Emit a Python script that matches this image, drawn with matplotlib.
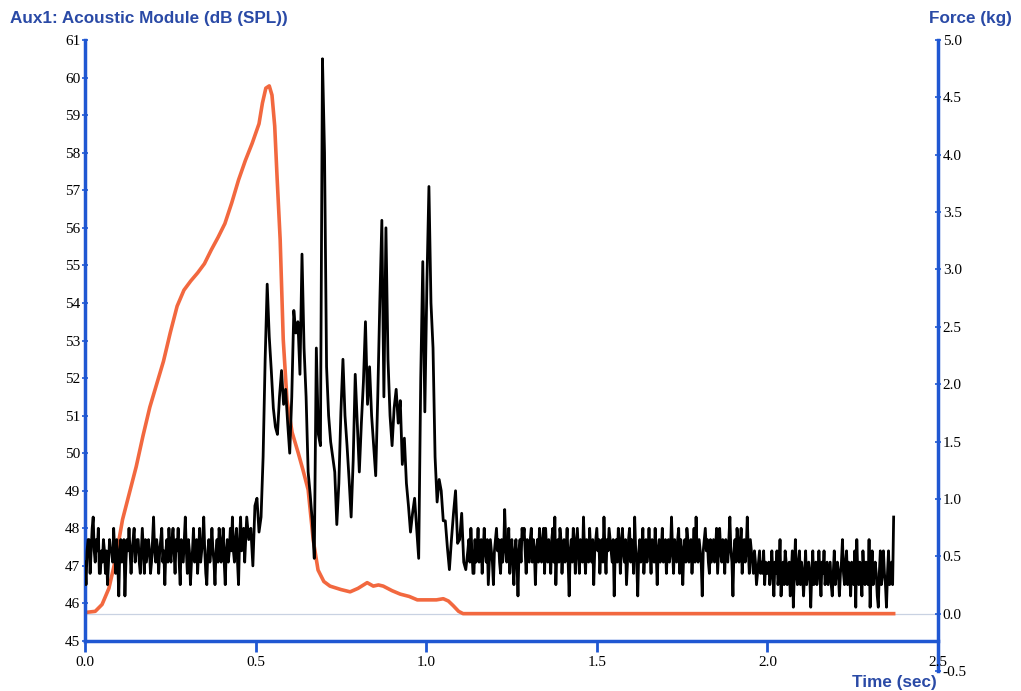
import numpy as np
import matplotlib.pyplot as plt

# Aux1 acoustic module (dB SPL). Quiet stretches read every 3 ms,
# the loud event every 6 ms.
quiet_start_t0, quiet_step = 0.0, 0.003
event_t0, event_step = 0.468, 0.006
quiet_mid_t0 = 1.122
quiet_end_t0 = 2.001

spl_quiet_start = [
    47.1, 46.5, 47.4, 47.7, 47.7, 46.8, 47.4, 48.0, 48.3, 47.4, 47.1, 47.7,
    47.4, 48.0, 46.8, 46.8, 47.4, 47.1, 47.7, 47.4, 46.8, 47.4, 46.5, 47.1,
    47.7, 47.4, 47.4, 47.1, 48.0, 47.4, 46.8, 47.7, 47.1, 46.2, 47.4, 47.7,
    47.1, 47.4, 47.7, 46.2, 47.1, 47.7, 47.4, 48.0, 47.4, 46.8, 47.4, 47.7,
    48.0, 47.1, 47.4, 47.7, 47.7, 47.1, 46.8, 47.4, 48.0, 47.4, 46.8, 47.7,
    47.1, 47.4, 47.7, 47.4, 46.8, 47.1, 47.7, 48.3, 47.4, 47.1, 47.7, 47.4,
    46.8, 47.4, 47.7, 48.0, 47.1, 47.4, 46.5, 47.4, 47.7, 47.1, 48.0, 47.4,
    47.1, 47.7, 48.0, 47.4, 46.8, 47.7, 47.4, 48.0, 47.1, 46.5, 47.7, 47.4,
    47.1, 47.7, 48.3, 47.4, 46.8, 47.7, 47.4, 46.5, 47.1, 47.4, 48.0, 47.1,
    47.4, 47.7, 46.8, 47.4, 48.0, 47.1, 47.4, 47.7, 48.3, 47.4, 46.8, 46.5,
    47.4, 47.7, 47.1, 47.4, 48.0, 47.4, 47.1, 46.5, 47.4, 47.7, 47.1, 48.0,
    47.7, 47.1, 47.4, 48.0, 47.1, 46.5, 47.4, 47.7, 47.1, 47.4, 48.0, 47.4,
    48.3, 47.4, 47.1, 47.7, 48.0, 47.1, 46.5, 47.7, 48.3, 47.4, 47.7, 48.0,
]

spl_event = [
    47.1, 48.3, 47.7, 48.0, 47.0, 48.6, 48.8, 47.9, 48.3, 49.9,
    52.5, 54.5, 53.1, 52.2, 51.2, 50.7, 50.5, 51.5, 52.2, 51.3,
    51.7, 50.8, 50.0, 51.5, 53.8, 53.2, 53.5, 52.1, 55.3, 52.8,
    51.5, 49.5, 48.9, 48.2, 47.2, 52.8, 50.5, 50.2, 60.5, 58.0,
    52.3, 51.0, 50.3, 49.9, 49.5, 48.1, 49.2, 51.1, 52.5, 51.0,
    50.2, 49.3, 48.3, 49.8, 52.1, 50.8, 49.5, 50.8, 51.9, 53.5,
    51.3, 52.3, 51.0, 50.2, 49.4, 51.5, 54.0, 56.2, 51.5, 56.0,
    52.5, 51.0, 50.2, 51.2, 51.7, 50.8, 51.4, 49.7, 50.4, 49.2,
    48.6, 47.9, 48.4, 48.8, 48.0, 47.2, 52.0, 55.1, 51.1, 54.5,
    57.1, 54.0, 52.8, 49.9, 48.7, 49.3, 49.0, 48.2, 48.2, 47.5,
    46.9, 47.7, 48.4, 49.0, 47.6, 47.7, 48.4, 47.1, 46.9,
]

spl_quiet_mid = [
    47.4, 47.7, 47.1, 48.0, 47.4, 46.8, 46.8, 47.7, 47.1, 47.4, 48.0, 47.1,
    47.4, 47.7, 46.8, 47.4, 48.0, 47.4, 47.1, 47.7, 46.5, 47.1, 47.7, 47.4,
    47.1, 46.5, 47.4, 47.7, 48.0, 47.4, 47.7, 47.1, 46.8, 47.7, 47.1, 47.4,
    48.5, 47.7, 47.1, 47.4, 48.0, 46.8, 47.4, 47.7, 47.1, 46.5, 47.4, 47.7,
    47.1, 46.2, 47.4, 47.7, 47.1, 48.0, 47.7, 48.0, 47.4, 46.8, 47.7, 47.4,
    47.1, 47.7, 48.0, 47.1, 47.7, 47.4, 46.5, 47.4, 47.7, 47.1, 48.0, 47.7,
    47.1, 47.4, 48.0, 46.8, 48.0, 47.4, 47.1, 47.7, 47.4, 46.8, 47.7, 48.0,
    47.1, 48.3, 46.5, 47.4, 47.7, 47.1, 48.0, 47.7, 46.8, 47.4, 47.7, 47.1,
    47.4, 48.0, 47.1, 46.2, 47.4, 47.7, 47.1, 48.0, 47.7, 46.8, 47.4, 48.0,
    47.4, 46.8, 47.7, 47.4, 47.1, 48.3, 47.4, 46.8, 47.7, 47.4, 47.1, 48.0,
    47.4, 47.1, 47.7, 46.5, 47.4, 47.7, 48.0, 47.4, 47.7, 46.8, 47.4, 47.7,
    47.1, 48.3, 47.4, 46.8, 47.7, 47.4, 48.0, 47.7, 47.4, 47.1, 47.7, 46.2,
    47.4, 47.7, 47.1, 48.0, 47.7, 46.8, 47.4, 48.0, 47.4, 47.1, 47.7, 46.5,
    47.1, 47.7, 48.0, 47.1, 47.7, 47.4, 46.8, 48.3, 47.4, 47.1, 46.2, 47.4,
    47.7, 47.1, 47.4, 48.0, 46.8, 47.4, 47.7, 47.1, 47.4, 48.0, 47.4, 46.8,
    47.7, 47.4, 47.1, 48.0, 47.4, 46.5, 47.4, 47.7, 47.1, 47.4, 48.0, 47.1,
    47.4, 47.7, 46.8, 47.4, 47.7, 47.1, 47.4, 48.3, 47.4, 46.8, 47.7, 47.4,
    47.1, 47.7, 48.0, 46.8, 47.7, 47.4, 46.5, 47.4, 47.7, 47.1, 48.0, 47.7,
    47.1, 47.4, 47.7, 46.8, 47.4, 48.0, 47.1, 48.3, 47.4, 47.1, 47.7, 47.4,
    47.1, 46.2, 47.4, 47.7, 48.0, 47.4, 47.7, 47.1, 46.8, 47.7, 47.1, 47.4,
    47.7, 47.1, 47.4, 48.0, 46.8, 47.4, 48.0, 47.4, 47.1, 47.7, 47.4, 46.8,
    47.7, 47.4, 47.1, 47.7, 48.3, 47.4, 47.1, 46.2, 47.4, 47.7, 47.1, 48.0,
    47.7, 47.1, 47.4, 48.0, 46.8, 47.4, 47.7, 47.1, 47.4, 48.3, 47.4, 46.8,
    47.7, 47.4, 47.1, 46.8, 47.4, 47.1, 46.5, 46.8, 47.1, 47.4, 46.8, 47.1,
    46.8, 47.4, 46.5, 47.1, 46.8,
]

spl_quiet_end = [
    46.8, 47.1, 46.5, 46.8, 47.4, 46.8, 46.2, 47.1, 46.8, 47.4, 46.5, 46.8,
    47.7, 46.2, 46.8, 47.1, 46.5, 47.4, 47.1, 46.5, 46.8, 47.1, 46.2, 46.8,
    47.4, 45.9, 46.8, 47.7, 46.8, 46.5, 47.1, 47.4, 46.5, 47.1, 46.8, 46.2,
    46.8, 47.4, 46.5, 46.8, 47.1, 46.8, 45.9, 46.8, 47.4, 46.5, 46.8, 47.1,
    46.5, 46.8, 47.4, 46.8, 46.2, 47.1, 46.8, 47.4, 46.5, 46.8, 47.1, 46.5,
    46.8, 47.1, 46.5, 46.2, 46.8, 47.4, 46.5, 46.8, 47.1, 46.8, 46.2, 46.8,
    47.1, 47.7, 46.8, 46.5, 47.1, 47.4, 46.5, 47.1, 46.8, 46.2, 47.1, 46.8,
    46.5, 47.4, 45.9, 47.7, 46.8, 46.5, 47.1, 46.8, 46.2, 47.4, 46.8, 46.5,
    47.1, 46.8, 46.5, 47.7, 45.9, 46.8, 47.4, 46.5, 46.8, 47.1, 46.8, 46.2,
    45.9, 46.8, 47.4, 46.5, 46.8, 47.4, 46.8, 46.5, 45.9, 46.8, 47.4, 46.5,
    46.8, 47.1, 46.5, 48.3,
]

# force sensor (kg)
force_time = [0.0, 0.03, 0.05, 0.07, 0.09, 0.11, 0.13, 0.15, 0.17, 0.19,
              0.21, 0.23, 0.25, 0.27, 0.29, 0.31, 0.33, 0.35, 0.37, 0.39,
              0.41, 0.43, 0.45, 0.47, 0.49, 0.51, 0.52, 0.53, 0.54, 0.548,
              0.556, 0.563, 0.572, 0.581, 0.592, 0.607, 0.625, 0.639, 0.654,
              0.669, 0.683, 0.70, 0.718, 0.75, 0.777, 0.80, 0.827, 0.845,
              0.86, 0.874, 0.90, 0.924, 0.95, 0.974, 1.0, 1.03, 1.05, 1.065,
              1.079, 1.095, 1.108, 2.37]
force_kg = [0.01, 0.02, 0.08, 0.22, 0.48, 0.82, 1.05, 1.28, 1.55, 1.80,
            2.00, 2.20, 2.45, 2.68, 2.82, 2.90, 2.97, 3.05, 3.17, 3.28,
            3.40, 3.58, 3.78, 3.95, 4.10, 4.27, 4.45, 4.58, 4.60, 4.52,
            4.25, 3.80, 3.26, 2.39, 1.86, 1.58, 1.40, 1.25, 1.08,
            0.64, 0.38, 0.28, 0.24, 0.21, 0.19, 0.22, 0.27, 0.24,
            0.25, 0.24, 0.20, 0.17, 0.15, 0.12, 0.12, 0.12, 0.13, 0.11,
            0.07, 0.02, 0.0, 0.0]

time_ticks = [0.0, 0.5, 1.0, 1.5, 2.0, 2.5]
db_ticks = list(range(45, 62))
kg_ticks = [-0.5, 0.0, 0.5, 1.0, 1.5, 2.0, 2.5, 3.0, 3.5, 4.0, 4.5, 5.0]

AXIS_BLUE = '#1f57d2'
TEXT_BLUE = '#2a4aa6'

plt.rcParams['font.family'] = 'Liberation Serif'


def seg_times(t0, step, values):
    return t0 + np.arange(len(values)) * step


t = np.concatenate([
    seg_times(quiet_start_t0, quiet_step, spl_quiet_start),
    seg_times(event_t0, event_step, spl_event),
    seg_times(quiet_mid_t0, quiet_step, spl_quiet_mid),
    seg_times(quiet_end_t0, quiet_step, spl_quiet_end),
])
spl = np.array(spl_quiet_start + spl_event + spl_quiet_mid + spl_quiet_end)

W, H = 1021, 691
fig = plt.figure(figsize=(W / 100, H / 100), dpi=100)


def box(x0, y0, x1, y1):
    # pixel box -> figure fraction rect
    return [x0 / W, 1 - y1 / H, (x1 - x0) / W, (y1 - y0) / H]


# force axis is taller than the dB axis (goes down to -0.5)
ax2 = fig.add_axes(box(85, 40, 938, 671))
ax = fig.add_axes(box(85, 40, 938, 641))
ax.set_zorder(2)
ax.patch.set_visible(False)

ax2.axhline(0, color='#c9d2e2', lw=0.9, zorder=1)
ax2.plot(force_time, force_kg, color='#f2683f', lw=2.6, zorder=2,
         solid_joinstyle='round')
ax2.set_xlim(0, 2.5)
ax2.set_ylim(-0.5, 5.0)
ax2.set_yticks(kg_ticks)
ax2.set_yticklabels([f'{v:.1f}' for v in kg_ticks])
ax2.yaxis.tick_right()
ax2.tick_params(axis='y', direction='inout', length=5, width=1.2,
                color=AXIS_BLUE, labelsize=11, pad=1)
ax2.set_xticks([])
for s in ['top', 'left', 'bottom']:
    ax2.spines[s].set_visible(False)
ax2.spines['right'].set_color(AXIS_BLUE)
ax2.spines['right'].set_linewidth(2.5)

ax.plot(t, spl, color='black', lw=2.0, zorder=3)
ax.set_xlim(0, 2.5)
ax.set_ylim(45, 61)
ax.set_yticks(db_ticks)
ax.set_xticks(time_ticks)
ax.set_xticklabels([f'{v:.1f}' for v in time_ticks])
ax.tick_params(axis='y', direction='inout', length=5, width=1.2,
               color=AXIS_BLUE, labelsize=11, pad=1)
ax.tick_params(axis='x', direction='out', length=8, width=2,
               color=AXIS_BLUE, labelsize=11, pad=3)
for s in ['top', 'right']:
    ax.spines[s].set_visible(False)
for s in ['left', 'bottom']:
    ax.spines[s].set_color(AXIS_BLUE)
    ax.spines[s].set_linewidth(2.5)

title_kw = dict(fontsize=12.3, fontweight='bold', color=TEXT_BLUE,
                family='Liberation Sans', va='center')
fig.text(10 / W, 1 - 18 / H, 'Aux1: Acoustic Module (dB (SPL))', ha='left', **title_kw)
fig.text(1012 / W, 1 - 18 / H, 'Force (kg)', ha='right', **title_kw)
fig.text(937 / W, 1 - 682 / H, 'Time (sec)', ha='right', **title_kw)

fig.savefig('out.png', dpi=100, facecolor='white')
